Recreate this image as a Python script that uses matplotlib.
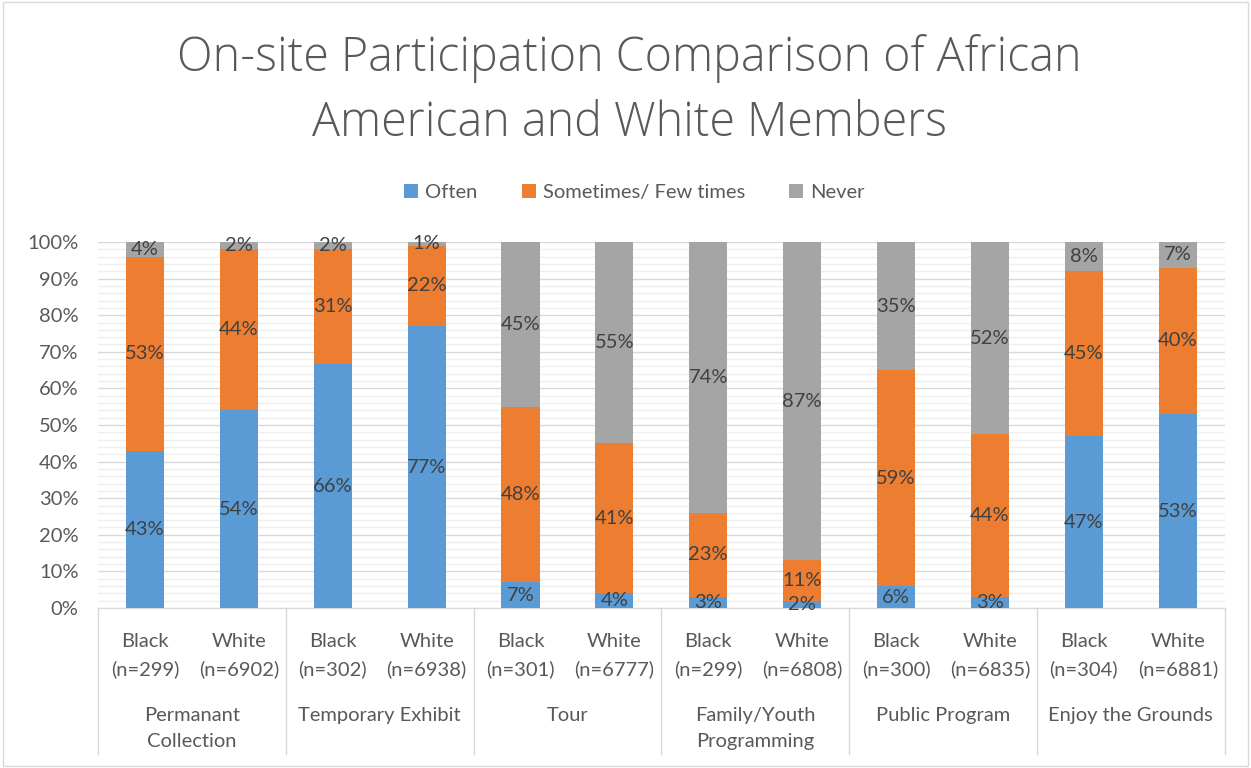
import numpy as np
import matplotlib.pyplot as plt
from matplotlib.patches import Rectangle
from matplotlib.ticker import MultipleLocator, PercentFormatter

plt.rcParams['font.family'] = ['Lato', 'DejaVu Sans']

groups = ["Permanant\nCollection", "Temporary Exhibit", "Tour",
          "Family/Youth\nProgramming", "Public Program", "Enjoy the Grounds"]
bar_labels = ["Black\n(n=299)", "White\n(n=6902)", "Black\n(n=302)", "White\n(n=6938)",
              "Black\n(n=301)", "White\n(n=6777)", "Black\n(n=299)", "White\n(n=6808)",
              "Black\n(n=300)", "White\n(n=6835)", "Black\n(n=304)", "White\n(n=6881)"]
series = ["Often", "Sometimes/ Few times", "Never"]
often = [43, 54, 66, 77, 7, 4, 3, 2, 6, 3, 47, 53]
sometimes = [53, 44, 31, 22, 48, 41, 23, 11, 59, 44, 45, 40]
never = [4, 2, 2, 1, 45, 55, 74, 87, 35, 52, 8, 7]
colors = ["#5B9BD5", "#ED7D31", "#A5A5A5"]

vals = np.array([often, sometimes, never], dtype=float)
shares = vals / vals.sum(axis=0) * 100

fig = plt.figure(figsize=(12.51, 7.68), dpi=100)
ax = fig.add_axes([0.0783, 0.2083, 0.9007, 0.4766])

x = np.arange(len(bar_labels))
bottom = np.zeros(len(x))
for s, name, c, raw in zip(shares, series, colors, vals):
    ax.bar(x, s, 0.405, bottom=bottom, color=c, label=name, zorder=3)
    for xi, b, h, r in zip(x, bottom, s, raw):
        ax.text(xi, b + h / 2, f"{int(r)}%", ha='center', va='center',
                fontsize=14.5, color="#404040", zorder=4)
    bottom += s

ax.set_xlim(-0.5, len(x) - 0.5)
ax.set_ylim(0, 100)
ax.yaxis.set_major_locator(MultipleLocator(10))
ax.yaxis.set_minor_locator(MultipleLocator(2))
ax.yaxis.set_major_formatter(PercentFormatter(decimals=0))
ax.grid(axis='y', which='major', color="#D9D9D9", lw=1, zorder=0)
ax.grid(axis='y', which='minor', color="#EFEFEF", lw=1, zorder=0)
ax.tick_params(axis='y', which='both', length=0, labelsize=14.5, labelcolor="#595959", pad=14)
ax.set_xticks([])
for sp in ['top', 'right', 'left']:
    ax.spines[sp].set_visible(False)
ax.spines['bottom'].set_color("#D9D9D9")

# multi-level category axis
trans = ax.get_xaxis_transform()
for xi, lab in zip(x, bar_labels):
    ax.text(xi, -0.069, lab, transform=trans, ha='center', va='top',
            fontsize=14.5, color="#595959", linespacing=1.65)
for gi, g in enumerate(groups):
    ax.text(2 * gi + 0.5, -0.27, g, transform=trans, ha='center', va='top',
            fontsize=14.5, color="#595959", linespacing=1.65)
for b in np.arange(-0.5, len(x), 2):
    ax.plot([b, b], [0, -0.40], transform=trans, color="#D9D9D9", lw=1, clip_on=False)

fig.text(0.503, 0.881, "On-site Participation Comparison of African\nAmerican and White Members",
         ha='center', va='center', fontsize=33.6, color="#595959", linespacing=1.45,
         family=['Open Sans', 'Lato', 'DejaVu Sans'], weight='light')

ax.legend(loc='center', bbox_to_anchor=(0.476, 1.135), ncol=3, frameon=False,
          fontsize=14.5, labelcolor="#595959", handlelength=0.7, handleheight=0.7,
          handletextpad=0.35, columnspacing=2.2)

fig.patches.append(Rectangle((0.002, 0.002), 0.996, 0.996, transform=fig.transFigure,
                             fill=False, edgecolor="#D9D9D9", lw=1))

fig.savefig("out.png", dpi=100)
